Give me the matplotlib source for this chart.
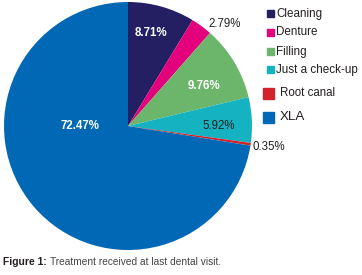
import numpy as np
import matplotlib
matplotlib.use("Agg")
import matplotlib.pyplot as plt
from matplotlib.patches import Rectangle

# treatment received at last dental visit (percent)
categories = ["Cleaning", "Denture", "Filling", "Just a check-up", "Root canal", "XLA"]
shares = [8.71, 2.79, 9.76, 5.92, 0.35, 72.47]
colors = ["#241f63", "#e4007c", "#6cb66c", "#15b3c1", "#d3232a", "#0068b4"]

# label styling per slice: radius, angle nudge (deg), colour, bold
lab_r = [0.77, 1.13, 0.69, 0.73, 1.15, 0.385]
lab_nudge = [2, -7, -3, -3, 0, -40.5]
lab_col = ["white", "#231f20", "white", "#231f20", "#231f20", "white"]
lab_bold = [True, False, True, False, False, True]

plt.rcParams['font.family'] = ['Liberation Sans', 'DejaVu Sans']

W, H = 362, 275
fig = plt.figure(figsize=(W / 100, H / 100), dpi=100)

cx, cy, R = 128, 126, 124
ax = fig.add_axes([(cx - R) / W, (H - cy - R) / H, 2 * R / W, 2 * R / H])
wedges, _ = ax.pie(shares, colors=colors, startangle=90, counterclock=False,
                   wedgeprops=dict(linewidth=0))
ax.set_xlim(-1, 1)
ax.set_ylim(-1, 1)
ax.set_aspect('auto')
ax.axis('off')

for w, v, r, dn, c, b in zip(wedges, shares, lab_r, lab_nudge, lab_col, lab_bold):
    mid = np.deg2rad((w.theta1 + w.theta2) / 2 + dn)
    ax.text(r * np.cos(mid), r * np.sin(mid), "%.2f%%" % v, color=c,
            fontsize=8.3, fontweight='bold' if b else 'normal',
            ha='center', va='center')

# legend drawn by hand (uneven row spacing in the original)
leg_y = [13.7, 32.3, 51.7, 70, 93.3, 117.3]
leg_sq = [7, 7, 7, 7, 11, 11]
leg_x = [267, 267, 267, 267, 263, 263]
leg_tx = [276, 276, 276, 276, 280.5, 280]
leg_fs = [8.4, 8.4, 8.4, 8.4, 8.3, 9.6]
for name, col, y, s, x, tx, fs in zip(categories, colors, leg_y, leg_sq, leg_x, leg_tx, leg_fs):
    fig.patches.append(Rectangle((x / W, (H - y - s / 2) / H), s / W, s / H,
                                 transform=fig.transFigure, color=col))
    fig.text(tx / W, (H - y) / H, name, fontsize=fs, color="#231f20",
             ha='left', va='center')

fig.text(3 / W, (H - 262) / H, "Figure 1:", fontsize=7.4, fontweight='bold',
         color="#231f20", ha='left', va='center')
fig.text(50 / W, (H - 262) / H, "Treatment received at last dental visit.",
         fontsize=7.3, color="#444444", ha='left', va='center')

fig.savefig("out.png", dpi=100)
